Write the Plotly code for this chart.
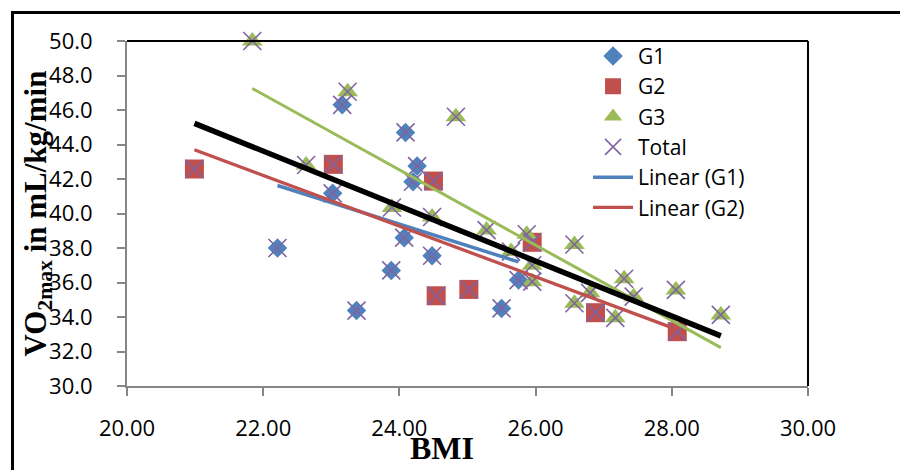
import numpy as np
import plotly.graph_objects as go

# ---- data ----
g1_bmi = [22.21, 23.16, 23.02, 24.09, 24.26, 24.20, 23.88, 24.07, 23.37, 24.48, 25.50, 25.75]
g1_vo2 = [38.00, 46.30, 41.17, 44.70, 42.75, 41.84, 36.70, 38.60, 34.37, 37.55, 34.50, 36.14]

g2_bmi = [20.99, 23.03, 24.50, 25.95, 24.54, 25.02, 26.88, 28.08]
g2_vo2 = [42.58, 42.85, 41.88, 38.33, 35.23, 35.60, 34.25, 33.15]

g3_bmi = [21.84, 23.24, 24.83, 22.63, 23.89, 24.48, 25.28, 25.87, 25.64, 25.95,
          25.95, 26.57, 26.57, 26.80, 27.30, 27.44, 27.17, 28.06, 28.72]
g3_vo2 = [50.00, 47.06, 45.61, 42.81, 40.35, 39.80, 39.04, 38.80, 37.79, 37.00,
          36.05, 38.20, 34.80, 35.40, 36.22, 35.18, 33.95, 35.57, 34.12]

total_bmi = g1_bmi + g2_bmi + g3_bmi
total_vo2 = g1_vo2 + g2_vo2 + g3_vo2

x_ticks = [20, 22, 24, 26, 28, 30]
y_ticks = [30, 32, 34, 36, 38, 40, 42, 44, 46, 48, 50]

BLUE, RED, GREEN, PURPLE = "#4F81BD", "#C0504D", "#9BBB59", "#8064A2"
TICK_FONT = dict(family="Open Sans", size=22, color="black")


def trend(xs, ys):
    xs = np.asarray(xs, float)
    ys = np.asarray(ys, float)
    k, b = np.polyfit(xs, ys, 1)
    xx = np.array([xs.min(), xs.max()])
    return xx, k * xx + b


fig = go.Figure()

fig.add_trace(go.Scatter(x=g1_bmi, y=g1_vo2, mode="markers", name="G1", cliponaxis=False,
                         marker=dict(symbol="diamond", size=15, color=BLUE)))
fig.add_trace(go.Scatter(x=g2_bmi, y=g2_vo2, mode="markers", name="G2", cliponaxis=False,
                         marker=dict(symbol="square", size=19, color=RED)))
fig.add_trace(go.Scatter(x=g3_bmi, y=g3_vo2, mode="markers", name="G3", cliponaxis=False,
                         marker=dict(symbol="triangle-up", size=18, color=GREEN)))
fig.add_trace(go.Scatter(x=total_bmi, y=total_vo2, mode="markers", name="Total", cliponaxis=False,
                         marker=dict(symbol="x-thin", size=18, color=PURPLE,
                                     line=dict(color=PURPLE, width=1.6))))

for xs, ys, name, col, w, show in [
    (g1_bmi, g1_vo2, "Linear (G1)", BLUE, 3.5, True),
    (g2_bmi, g2_vo2, "Linear (G2)", RED, 3.3, True),
    (g3_bmi, g3_vo2, "Linear (G3)", GREEN, 3.0, False),
    (total_bmi, total_vo2, "Linear (Total)", "black", 5.5, False),
]:
    tx, ty = trend(xs, ys)
    fig.add_trace(go.Scatter(x=tx, y=ty, mode="lines", name=name, showlegend=show,
                             line=dict(color=col, width=w)))

axis_common = dict(showgrid=False, zeroline=False, showline=True, linecolor="#868686",
                   linewidth=2, ticks="outside", ticklen=8, tickwidth=2, tickcolor="#868686",
                   tickfont=TICK_FONT)

fig.update_xaxes(range=[20, 30], tickvals=x_ticks, tickformat=".2f",
                 ticklabelstandoff=14, **axis_common)
fig.update_yaxes(range=[30, 50], tickvals=y_ticks, tickformat=".1f",
                 ticklabelstandoff=20, **axis_common)

shapes = [
    # outer frame: wide rectangle whose left and top edges fall inside the window
    dict(type="rect", xref="paper", yref="paper", xsizemode="pixel", ysizemode="pixel",
         xanchor=0, yanchor=1, x0=-114.5, x1=900, y0=28.5, y1=-500,
         line=dict(color="black", width=3), fillcolor="rgba(0,0,0,0)", layer="above"),
    # plot-area top and right borders
    dict(type="line", xref="paper", yref="paper", x0=0, x1=1, y0=1, y1=1,
         line=dict(color="black", width=2)),
    dict(type="line", xref="paper", yref="paper", x0=1, x1=1, y0=0, y1=1,
         line=dict(color="black", width=2)),
]

annotations = [
    dict(text="<b>VO<sub>2max</sub> in mL/kg/min</b>", xref="paper", yref="paper",
         x=-0.132, y=0.5, xanchor="center", yanchor="middle", textangle=-90, showarrow=False,
         font=dict(family="Liberation Serif", size=31, color="black")),
    dict(text="<b>BMI</b>", xref="paper", yref="paper", x=0.4626, y=-0.18,
         xanchor="center", yanchor="middle", showarrow=False,
         font=dict(family="Liberation Serif", size=32, color="black")),
]

fig.update_layout(
    width=900, height=470,
    margin=dict(l=127, r=92, t=41, b=84),
    paper_bgcolor="white", plot_bgcolor="white",
    showlegend=True,
    legend=dict(x=0.677, y=1.015, xanchor="left", yanchor="top", bgcolor="rgba(0,0,0,0)",
                font=dict(family="Open Sans", size=21, color="black"), tracegroupgap=0,
                itemwidth=40),
    shapes=shapes, annotations=annotations,
)

frame_js = (
    "document.body.style.margin='0';"
    "var fr=document.createElement('div');"
    "fr.style.cssText='position:fixed;left:11px;top:11px;width:3000px;height:3000px;"
    "border-left:3px solid #000;border-top:3px solid #000;pointer-events:none;z-index:1000;';"
    "document.body.appendChild(fr);"
)

fig.write_html("out.html", config={"displayModeBar": False}, post_script=frame_js)
